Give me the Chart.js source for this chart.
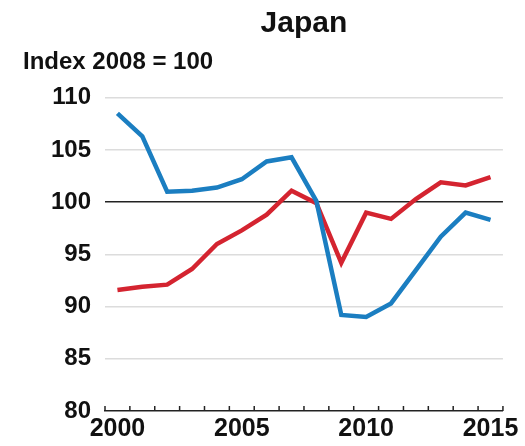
<!DOCTYPE html>
<html>
<head>
<meta charset="utf-8">
<script src="https://cdn.jsdelivr.net/npm/chart.js@4"></script>
<style>
  html, body { margin: 0; padding: 0; background: #fff; }
  #wrap { width: 525px; height: 446px; }
</style>
</head>
<body>
<div id="wrap"><canvas id="japanChart"></canvas></div>
<script>
// --- Data ---
const years = ['2000', '2001', '2002', '2003', '2004', '2005', '2006', '2007',
               '2008', '2009', '2010', '2011', '2012', '2013', '2014', '2015'];
const blueSeries = [108.5, 106.3, 101.0, 101.1, 101.4, 102.2, 103.9, 104.3,
                    100.1, 89.2, 89.0, 90.3, 93.5, 96.7, 99.0, 98.3];
const redSeries = [91.6, 91.9, 92.1, 93.6, 96.0, 97.3, 98.8, 101.1,
                   99.9, 94.2, 99.0, 98.4, 100.3, 101.9, 101.6, 102.4];
const yTicks = [80, 85, 90, 95, 100, 105, 110];
const shownYears = ['2000', '2005', '2010', '2015'];

const FONT = "'Liberation Sans', Arial, sans-serif";

// small upward tick marks on the x axis, at the category edges
const edgeTicks = {
    id: 'edgeTicks',
    afterDraw(chart) {
        const x = chart.scales.x;
        const ctx = chart.ctx;
        const y0 = chart.chartArea.bottom;
        ctx.save();
        ctx.strokeStyle = '#222';
        ctx.lineWidth = 1.5;
        for (let i = 0; i <= years.length; i++) {
            const px = x.getPixelForValue(i - 0.5);
            ctx.beginPath();
            ctx.moveTo(px, y0);
            ctx.lineTo(px, y0 - 5);
            ctx.stroke();
        }
        ctx.restore();
    }
};

const ctx = document.getElementById('japanChart').getContext('2d');
new Chart(ctx, {
    type: 'line',
    data: {
        labels: years,
        datasets: [{
            data: blueSeries,
            borderColor: '#1b7ec1',
            borderWidth: 4.5,
            pointRadius: 0,
            tension: 0
        }, {
            data: redSeries,
            borderColor: '#d42430',
            borderWidth: 4.5,
            pointRadius: 0,
            tension: 0
        }]
    },
    options: {
        responsive: true,
        maintainAspectRatio: false,
        animation: false,
        layout: { padding: { left: 23, right: 22, bottom: -2 } },
        plugins: {
            legend: { display: false },
            tooltip: { enabled: false },
            title: {
                display: true,
                text: 'Japan',
                fullSize: false,
                color: '#111',
                font: { family: FONT, size: 30, weight: 'bold' },
                padding: { top: 6, bottom: 6 }
            },
            subtitle: {
                display: true,
                text: 'Index 2008 = 100',
                align: 'start',
                color: '#111',
                font: { family: FONT, size: 24, weight: 'bold' },
                padding: { top: 0, bottom: 21 }
            }
        },
        scales: {
            x: {
                offset: true,
                grid: { display: true, drawOnChartArea: false, drawTicks: false },
                border: { display: true, color: '#222', width: 1.5 },
                ticks: {
                    autoSkip: false,
                    maxRotation: 0,
                    padding: 6,
                    color: '#111',
                    font: { family: FONT, size: 25, weight: 'bold', lineHeight: 1 },
                    callback: function (v) {
                        const lab = this.getLabelForValue(v);
                        return shownYears.includes(lab) ? lab : '';
                    }
                }
            },
            y: {
                min: 80,
                max: 110,
                afterBuildTicks: (scale) => {
                    scale.ticks = yTicks.map(v => ({ value: v }));
                },
                afterFit: (scale) => { scale.width = 82; },
                border: { display: false },
                grid: {
                    drawTicks: false,
                    lineWidth: 1.5,
                    color: (c) => {
                        if (c.tick && c.tick.value === 100) return '#222';
                        if (c.tick && c.tick.value === 80) return 'rgba(0,0,0,0)';
                        return '#dcdcdc';
                    }
                },
                ticks: {
                    padding: 14,
                    color: '#111',
                    font: { family: FONT, size: 24, weight: 'bold' }
                }
            }
        }
    },
    plugins: [edgeTicks]
});
</script>
</body>
</html>
